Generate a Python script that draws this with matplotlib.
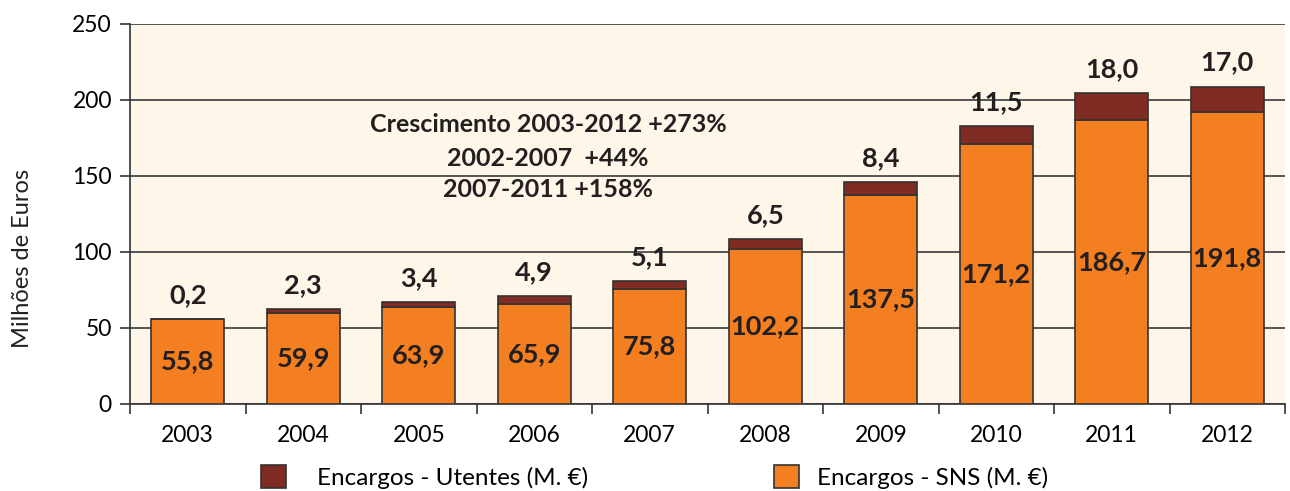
import matplotlib
matplotlib.use("Agg")
import matplotlib.pyplot as plt
import numpy as np

years = ["2003", "2004", "2005", "2006", "2007", "2008", "2009", "2010", "2011", "2012"]
sns_vals = [55.8, 59.9, 63.9, 65.9, 75.8, 102.2, 137.5, 171.2, 186.7, 191.8]
utentes_vals = [0.2, 2.3, 3.4, 4.9, 5.1, 6.5, 8.4, 11.5, 18.0, 17.0]
notes = ["Crescimento 2003-2012 +273%", "2002-2007  +44%", "2007-2011 +158%"]
yticks = [0, 50, 100, 150, 200, 250]

c_sns = "#F47F20"
c_ut = "#7F2C24"
bg = "#FEF6E8"
edge = "#333333"
plt.rcParams['font.family'] = ['Lato', 'DejaVu Sans']

fig = plt.figure(figsize=(12.9, 4.91), dpi=100)
ax = fig.add_axes([130/1290, 1-404/491, 1155/1290, 380/491])
ax.set_facecolor(bg)

x = np.arange(len(years))
w = 0.63
ax.bar(x, sns_vals, w, color=c_sns, edgecolor=edge, linewidth=1.2, zorder=3,
       label="Encargos - SNS (M. €)")
ax.bar(x, utentes_vals, w, bottom=sns_vals, color=c_ut, edgecolor=edge, linewidth=1.2,
       zorder=3, label="Encargos - Utentes (M. €)")

fmt = lambda v: f"{v:.1f}".replace(".", ",")
for xi, s, u in zip(x, sns_vals, utentes_vals):
    ax.text(xi, s/2, fmt(s), ha="center", va="center", fontsize=19.5,
            fontweight="bold", color="#231f20", zorder=4)
    ax.annotate(fmt(u), (xi, s+u), xytext=(0, 24), textcoords="offset pixels",
                ha="center", va="center", fontsize=19.5, fontweight="bold",
                color="#231f20", zorder=4)

ny = [184.2, 161.8, 141.4]
for t, yy in zip(notes, ny):
    ax.text(3.12, yy, t, ha="center", va="center", fontsize=18,
            fontweight="bold", color="#231f20", zorder=4)

ax.set_xlim(-0.5, len(years)-0.5)
ax.set_ylim(0, 250)
ax.set_yticks(yticks)
ax.set_yticklabels([str(v) for v in yticks], fontsize=16.5)
ax.yaxis.grid(True, color="#3a3a3a", linewidth=1.2, zorder=1)
ax.set_axisbelow(True)
ax.set_xticks(x)
ax.set_xticklabels(years, fontsize=16.5)
ax.set_xticks(np.arange(len(years)+1)-0.5, minor=True)
ax.tick_params(axis="x", which="major", length=0, pad=15)
ax.tick_params(axis="x", which="minor", length=7, width=1.2, color=edge)
ax.tick_params(axis="y", length=7, width=1.2, color=edge, pad=6)
for sp in ["top", "right"]:
    ax.spines[sp].set_visible(False)
for sp in ["left", "bottom"]:
    ax.spines[sp].set_color(edge)
    ax.spines[sp].set_linewidth(1.2)
ax.set_ylabel("Milhões de Euros", fontsize=17, color="#231f20")
ax.yaxis.set_label_coords(-(130-33)/1155, (404-258)/380)

h, l = ax.get_legend_handles_labels()
common = dict(loc="center left", frameon=False, fontsize=17.5,
              handlelength=1.03, handleheight=1.05, borderaxespad=0, borderpad=0)
fig.legend([h[1]], [l[1]], bbox_to_anchor=(261/1290, 1-477/491),
           handletextpad=1.28, **common)
fig.legend([h[0]], [l[0]], bbox_to_anchor=(774/1290, 1-477/491),
           handletextpad=0.72, **common)

fig.savefig("out.png", dpi=100, facecolor="white")
